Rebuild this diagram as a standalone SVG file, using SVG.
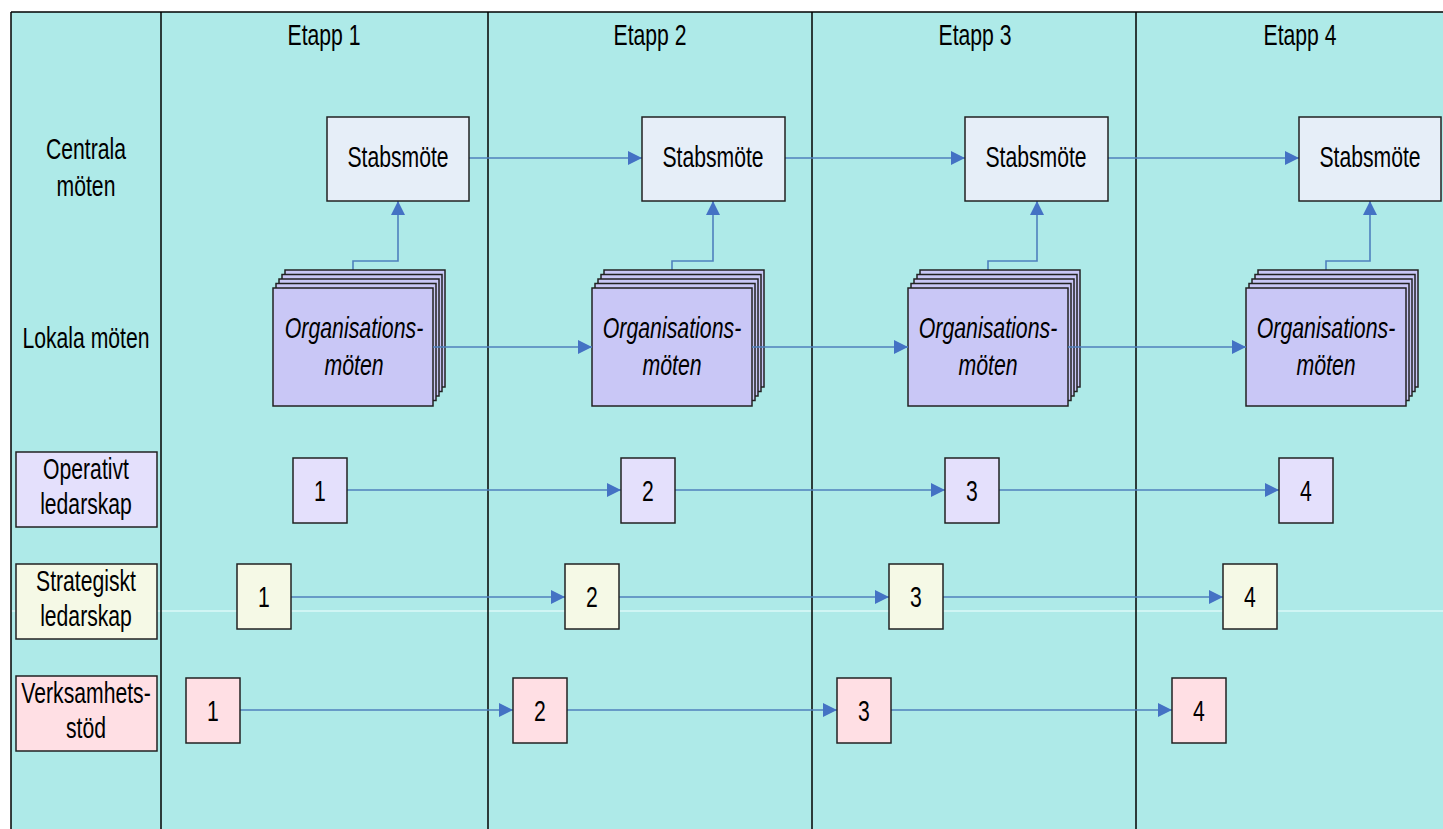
<svg xmlns="http://www.w3.org/2000/svg" width="1443" height="829" viewBox="0 0 1443 829">
<defs>
<style>
text{font-family:"Liberation Sans",Arial,sans-serif;font-size:29px;fill:#000;text-anchor:middle}
.it{font-style:italic;font-size:30px}
.box{stroke:#222;stroke-width:1.5}
.stab{fill:#E6EEF8}
.org{fill:#C9C7F6}
.op{fill:#E4E0FC}
.st{fill:#F5F9E6}
.vs{fill:#FFDFE4}
.conn{fill:none;stroke:#4F81BD;stroke-width:1.6}
.grid{stroke:#000;stroke-width:1.5}
</style>
<marker id="ah" markerUnits="userSpaceOnUse" markerWidth="14" markerHeight="14" viewBox="0 0 12 12" refX="12" refY="6" orient="auto">
<path d="M0,0 L12,6 L0,12 Z" fill="#4472C4"/>
</marker>
</defs>
<rect x="0" y="0" width="1443" height="829" fill="#fff"/>
<rect x="11" y="12" width="1432" height="817" fill="#AEEAE8"/>
<line x1="11" y1="611" x2="1443" y2="611" stroke="#F2FFFF" stroke-width="1.2"/>
<g id="grid">
<line class="grid" x1="11" y1="12" x2="1443" y2="12"/>
<line class="grid" x1="11" y1="12" x2="11" y2="829"/>
<line class="grid" x1="161" y1="12" x2="161" y2="829"/>
<line class="grid" x1="488" y1="12" x2="488" y2="829"/>
<line class="grid" x1="812" y1="12" x2="812" y2="829"/>
<line class="grid" x1="1136" y1="12" x2="1136" y2="829"/>
</g>
<g id="headers">
<text transform="translate(324,45) scale(0.73,1)">Etapp 1</text>
<text transform="translate(650,45) scale(0.73,1)">Etapp 2</text>
<text transform="translate(975,45) scale(0.73,1)">Etapp 3</text>
<text transform="translate(1300,45) scale(0.73,1)">Etapp 4</text>
</g>
<g id="row-labels">
<text transform="translate(86,159) scale(0.73,1)">Centrala</text>
<text transform="translate(86,196) scale(0.73,1)">möten</text>
<text transform="translate(86,348) scale(0.73,1)">Lokala möten</text>
</g>
<g id="label-operativt">
<rect class="box op" x="16" y="452" width="141" height="75"/>
<text transform="translate(86,479) scale(0.73,1)">Operativt</text>
<text transform="translate(86,514) scale(0.73,1)">ledarskap</text>
</g>
<g id="label-strategiskt">
<rect class="box st" x="16" y="564" width="141" height="75"/>
<text transform="translate(86,591) scale(0.73,1)">Strategiskt</text>
<text transform="translate(86,626) scale(0.73,1)">ledarskap</text>
</g>
<g id="label-verksamhet">
<rect class="box vs" x="16" y="676" width="141" height="75"/>
<text transform="translate(86,703) scale(0.73,1)">Verksamhets-</text>
<text transform="translate(86,738) scale(0.73,1)">stöd</text>
</g>
<g id="connectors">
<path class="conn" d="M469,158 H642" marker-end="url(#ah)"/>
<path class="conn" d="M785,158 H965" marker-end="url(#ah)"/>
<path class="conn" d="M1108,158 H1299" marker-end="url(#ah)"/>
<path class="conn" d="M353,288 V261 H398 V201" marker-end="url(#ah)"/>
<path class="conn" d="M672,288 V261 H713 V201" marker-end="url(#ah)"/>
<path class="conn" d="M988,288 V261 H1037 V201" marker-end="url(#ah)"/>
<path class="conn" d="M1326,288 V261 H1370 V201" marker-end="url(#ah)"/>
<path class="conn" d="M347,490 H621" marker-end="url(#ah)"/>
<path class="conn" d="M675,490 H945" marker-end="url(#ah)"/>
<path class="conn" d="M999,490 H1279" marker-end="url(#ah)"/>
<path class="conn" d="M291,597 H565" marker-end="url(#ah)"/>
<path class="conn" d="M619,597 H889" marker-end="url(#ah)"/>
<path class="conn" d="M943,597 H1223" marker-end="url(#ah)"/>
<path class="conn" d="M240,710 H513" marker-end="url(#ah)"/>
<path class="conn" d="M567,710 H837" marker-end="url(#ah)"/>
<path class="conn" d="M891,710 H1172" marker-end="url(#ah)"/>
</g>
<g id="stab1"><rect class="box stab" x="327" y="117" width="142" height="84"/><text transform="translate(398,167) scale(0.73,1)">Stabsmöte</text></g>
<g id="stab2"><rect class="box stab" x="642" y="117" width="143" height="84"/><text transform="translate(713,167) scale(0.73,1)">Stabsmöte</text></g>
<g id="stab3"><rect class="box stab" x="965" y="117" width="143" height="84"/><text transform="translate(1036,167) scale(0.73,1)">Stabsmöte</text></g>
<g id="stab4"><rect class="box stab" x="1299" y="117" width="142" height="84"/><text transform="translate(1370,167) scale(0.73,1)">Stabsmöte</text></g>
<g id="org1">
<rect class="box org" x="285" y="270" width="160" height="117"/>
<rect class="box org" x="282" y="274.5" width="160" height="117"/>
<rect class="box org" x="279" y="279" width="160" height="117"/>
<rect class="box org" x="276" y="283.5" width="160" height="117"/>
<rect class="box org" x="273" y="288" width="160" height="118"/>
<text class="it" transform="translate(354,338) scale(0.71,1)">Organisations-</text>
<text class="it" transform="translate(354,375) scale(0.71,1)">möten</text>
</g>
<g id="org2">
<rect class="box org" x="604" y="270" width="160" height="117"/>
<rect class="box org" x="601" y="274.5" width="160" height="117"/>
<rect class="box org" x="598" y="279" width="160" height="117"/>
<rect class="box org" x="595" y="283.5" width="160" height="117"/>
<rect class="box org" x="592" y="288" width="160" height="118"/>
<text class="it" transform="translate(672,338) scale(0.71,1)">Organisations-</text>
<text class="it" transform="translate(672,375) scale(0.71,1)">möten</text>
</g>
<g id="org3">
<rect class="box org" x="920" y="270" width="160" height="117"/>
<rect class="box org" x="917" y="274.5" width="160" height="117"/>
<rect class="box org" x="914" y="279" width="160" height="117"/>
<rect class="box org" x="911" y="283.5" width="160" height="117"/>
<rect class="box org" x="908" y="288" width="160" height="118"/>
<text class="it" transform="translate(988,338) scale(0.71,1)">Organisations-</text>
<text class="it" transform="translate(988,375) scale(0.71,1)">möten</text>
</g>
<g id="org4">
<rect class="box org" x="1258" y="270" width="160" height="117"/>
<rect class="box org" x="1255" y="274.5" width="160" height="117"/>
<rect class="box org" x="1252" y="279" width="160" height="117"/>
<rect class="box org" x="1249" y="283.5" width="160" height="117"/>
<rect class="box org" x="1246" y="288" width="160" height="118"/>
<text class="it" transform="translate(1326,338) scale(0.71,1)">Organisations-</text>
<text class="it" transform="translate(1326,375) scale(0.71,1)">möten</text>
</g>
<g id="org-links">
<path class="conn" d="M433,347 H592" marker-end="url(#ah)"/>
<path class="conn" d="M752,347 H908" marker-end="url(#ah)"/>
<path class="conn" d="M1068,347 H1246" marker-end="url(#ah)"/>
</g>
<g id="op1"><rect class="box op" x="293" y="458" width="54" height="65"/><text transform="translate(320,501) scale(0.73,1)">1</text></g>
<g id="op2"><rect class="box op" x="621" y="458" width="54" height="65"/><text transform="translate(648,501) scale(0.73,1)">2</text></g>
<g id="op3"><rect class="box op" x="945" y="458" width="54" height="65"/><text transform="translate(972,501) scale(0.73,1)">3</text></g>
<g id="op4"><rect class="box op" x="1279" y="458" width="54" height="65"/><text transform="translate(1306,501) scale(0.73,1)">4</text></g>
<g id="st1"><rect class="box st" x="237" y="564" width="54" height="65"/><text transform="translate(264,607) scale(0.73,1)">1</text></g>
<g id="st2"><rect class="box st" x="565" y="564" width="54" height="65"/><text transform="translate(592,607) scale(0.73,1)">2</text></g>
<g id="st3"><rect class="box st" x="889" y="564" width="54" height="65"/><text transform="translate(916,607) scale(0.73,1)">3</text></g>
<g id="st4"><rect class="box st" x="1223" y="564" width="54" height="65"/><text transform="translate(1250,607) scale(0.73,1)">4</text></g>
<g id="vs1"><rect class="box vs" x="186" y="678" width="54" height="65"/><text transform="translate(213,721) scale(0.73,1)">1</text></g>
<g id="vs2"><rect class="box vs" x="513" y="678" width="54" height="65"/><text transform="translate(540,721) scale(0.73,1)">2</text></g>
<g id="vs3"><rect class="box vs" x="837" y="678" width="54" height="65"/><text transform="translate(864,721) scale(0.73,1)">3</text></g>
<g id="vs4"><rect class="box vs" x="1172" y="678" width="54" height="65"/><text transform="translate(1199,721) scale(0.73,1)">4</text></g>
</svg>
